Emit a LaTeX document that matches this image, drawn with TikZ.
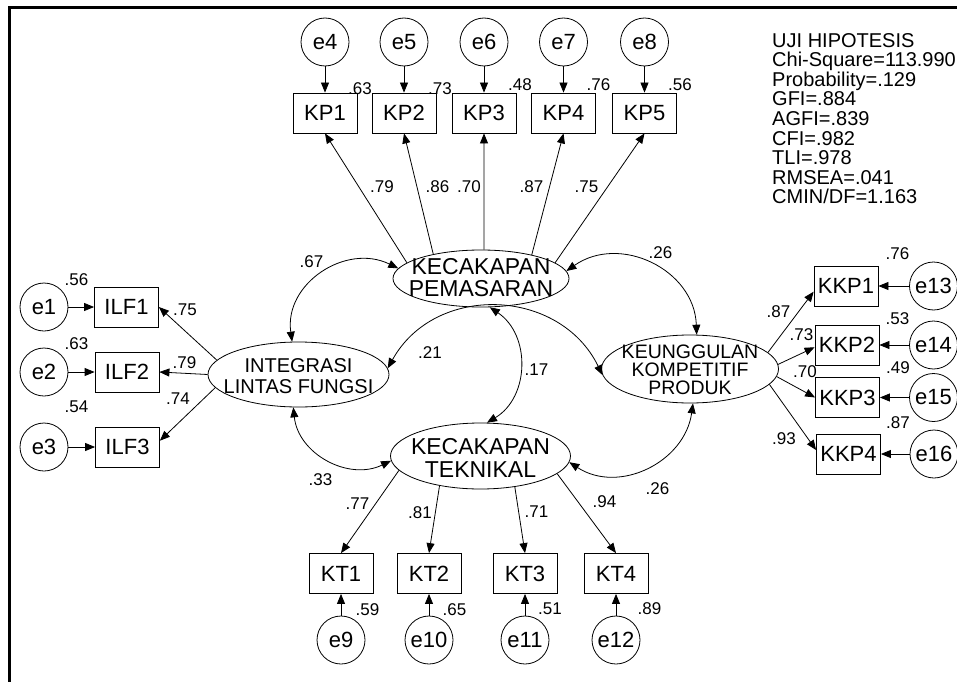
\documentclass[tikz,border=0pt]{standalone}
\usepackage{fontspec}
\setmainfont{Liberation Sans}
\usetikzlibrary{shapes.geometric,arrows.meta}
\tikzset{
  obs/.style={draw, line width=0.8pt, minimum width=64pt, minimum height=40pt, inner sep=0pt, font=\fontsize{22}{24}\selectfont},
  err/.style={draw, circle, line width=0.8pt, minimum size=48pt, inner sep=0pt, font=\fontsize{22}{24}\selectfont},
  lat/.style={draw, ellipse, line width=0.8pt, inner sep=0pt},
  num/.style={inner sep=0pt, font=\fontsize{17}{19}\selectfont},
  arr/.style={->, line width=0.8pt},
  cov/.style={<->, line width=0.8pt},
  >={Triangle[length=10pt,width=8pt]},
}
\begin{document}
\begin{tikzpicture}[x=1pt,y=1pt]
\useasboundingbox (0,0) rectangle (957,-682);
% frame
\draw[line width=3pt] (957,-7.5) -- (9.5,-7.5) -- (9.5,-682);

% latent variables
\node[lat, minimum width=176pt, minimum height=57pt] (kp) at (481,-278.5) {};
\node[lat, minimum width=181pt, minimum height=65pt] (ilf) at (298.5,-374.5) {};
\node[lat, minimum width=177pt, minimum height=68pt] (kkp) at (690,-369) {};
\node[lat, minimum width=180pt, minimum height=66pt] (kt) at (480.5,-456) {};
\node[align=center, inner sep=0pt, font=\fontsize{23}{21.5}\selectfont] (kpt) at (481,-277.5) {KECAKAPAN\\PEMASARAN};
\node[align=center, inner sep=0pt, font=\fontsize{20}{21}\selectfont] (ilft) at (298.5,-376.5) {INTEGRASI\\LINTAS FUNGSI};
\node[align=center, inner sep=0pt, font=\fontsize{19.5}{18}\selectfont] (kkpt) at (690,-370) {KEUNGGULAN\\KOMPETITIF\\PRODUK};
\node[align=center, inner sep=0pt, font=\fontsize{23}{22.5}\selectfont] (ktt) at (480.5,-458) {KECAKAPAN\\TEKNIKAL};

% KP indicators
\node[obs] (kp1) at (325,-113) {KP1};
\node[obs] (kp2) at (404,-113) {KP2};
\node[obs] (kp3) at (484,-113) {KP3};
\node[obs] (kp4) at (563.5,-113) {KP4};
\node[obs] (kp5) at (644.5,-113) {KP5};
\node[err] (e4) at (325,-42) {e4};
\node[err] (e5) at (404,-42) {e5};
\node[err] (e6) at (484,-42) {e6};
\node[err] (e7) at (563.5,-42) {e7};
\node[err] (e8) at (644.5,-42) {e8};

% ILF indicators
\node[obs] (ilf1) at (126.5,-307) {ILF1};
\node[obs] (ilf2) at (127,-372) {ILF2};
\node[obs] (ilf3) at (127.5,-447) {ILF3};
\node[err] (e1) at (44,-307) {e1};
\node[err] (e2) at (44,-372) {e2};
\node[err] (e3) at (44,-447) {e3};

% KKP indicators
\node[obs] (kkp1) at (846,-286) {KKP1};
\node[obs] (kkp2) at (847,-345) {KKP2};
\node[obs] (kkp3) at (847.5,-397.5) {KKP3};
\node[obs] (kkp4) at (848.5,-454) {KKP4};
\node[err] (e13) at (933.5,-286) {e13};
\node[err] (e14) at (933.5,-345) {e14};
\node[err] (e15) at (933.5,-397.5) {e15};
\node[err] (e16) at (934,-454) {e16};

% KT indicators
\node[obs] (kt1) at (341,-573.5) {KT1};
\node[obs] (kt2) at (429,-573.5) {KT2};
\node[obs] (kt3) at (525,-573.5) {KT3};
\node[obs] (kt4) at (616,-573.5) {KT4};
\node[err] (e9) at (341,-640) {e9};
\node[err] (e10) at (429,-640) {e10};
\node[err] (e11) at (525,-640) {e11};
\node[err] (e12) at (616,-640) {e12};

% error arrows
\draw[arr] (e4) -- (kp1);
\draw[arr] (e5) -- (kp2);
\draw[arr] (e6) -- (kp3);
\draw[arr] (e7) -- (kp4);
\draw[arr] (e8) -- (kp5);
\draw[arr] (e1) -- (ilf1);
\draw[arr] (e2) -- (ilf2);
\draw[arr] (e3) -- (ilf3);
\draw[arr] (e13) -- (kkp1);
\draw[arr] (e14) -- (kkp2);
\draw[arr] (e15) -- (kkp3);
\draw[arr] (e16) -- (kkp4);
\draw[arr] (e9) -- (kt1);
\draw[arr] (e10) -- (kt2);
\draw[arr] (e11) -- (kt3);
\draw[arr] (e12) -- (kt4);

% loadings
\draw[arr] (kp.168) -- (kp1.south);
\draw[arr] (kp.153) -- (kp2.south);
\draw[arr] (kp.84) -- (kp3.south);
\draw[arr] (kp.25) -- (kp4.south);
\draw[arr] (kp.12) -- (kp5.south);
\draw[arr] (ilf.170) -- (ilf1.east);
\draw[arr] (ilf.180) -- (ilf2.east);
\draw[arr] (ilf.189) -- (ilf3.11);
\draw[arr] (kkp.12) -- (kkp1.190);
\draw[arr] (kkp.3) -- (kkp2.184);
\draw[arr] (kkp.355) -- (kkp3.west);
\draw[arr] (kkp.349) -- (kkp4.173);
\draw[arr] (kt.190) -- (kt1.north);
\draw[arr] (kt.216) -- (kt2.north);
\draw[arr] (kt.318) -- (kt3.north);
\draw[arr] (kt.347) -- (kt4.north);

% covariances
\draw[cov] (ilf.101) to[out=98,in=154,looseness=1.16] (kp.173);
\draw[cov] (kp.5) to[out=35,in=92,looseness=1.15] (kkp.79);
\draw[cov] (ilf.4) to[out=61,in=116,looseness=1.16] (kkp.184);
\draw[cov] (kp.287) to[out=-34,in=31,looseness=1.1] (kt.79);
\draw[cov] (ilf.261) to[out=-84,in=206,looseness=1.08] (kt.183);
\draw[cov] (kt.356) to[out=-33,in=262,looseness=1.11] (kkp.275);

% numbers
\node[num] (n1) at (360,-89) {.63};
\node[num] (n2) at (440,-89) {.73};
\node[num] (n3) at (520,-85) {.48};
\node[num] (n4) at (598.5,-85) {.76};
\node[num] (n5) at (680,-85) {.56};
\node[num] (n6) at (382,-187) {.79};
\node[num] (n7) at (437.5,-187) {.86};
\node[num] (n8) at (469,-187) {.70};
\node[num] (n9) at (531.5,-187) {.87};
\node[num] (n10) at (586.5,-187) {.75};
\node[num] (n11) at (76.5,-280) {.56};
\node[num] (n12) at (76.5,-343.5) {.63};
\node[num] (n13) at (76.5,-406.5) {.54};
\node[num] (n14) at (185,-310) {.75};
\node[num] (n15) at (184.5,-362.5) {.79};
\node[num] (n16) at (178,-398.5) {.74};
\node[num] (n17) at (897.5,-253.5) {.76};
\node[num] (n18) at (897.5,-318.5) {.53};
\node[num] (n19) at (898,-367.5) {.49};
\node[num] (n20) at (898,-422.5) {.87};
\node[num] (n21) at (778.5,-311.5) {.87};
\node[num] (n22) at (801.5,-335) {.73};
\node[num] (n23) at (805,-371.5) {.70};
\node[num] (n24) at (784,-438.5) {.93};
\node[num] (n25) at (311.5,-261.5) {.67};
\node[num] (n26) at (660.5,-252.5) {.26};
\node[num] (n27) at (430,-352.5) {.21};
\node[num] (n28) at (536.5,-370) {.17};
\node[num] (n29) at (320.5,-480) {.33};
\node[num] (n30) at (657.5,-488.5) {.26};
\node[num] (n31) at (357.5,-503.5) {.77};
\node[num] (n32) at (420,-512.5) {.81};
\node[num] (n33) at (536.5,-511.5) {.71};
\node[num] (n34) at (604.5,-501.5) {.94};
\node[num] (n35) at (367.5,-610) {.59};
\node[num] (n36) at (454.5,-610) {.65};
\node[num] (n37) at (550,-608.5) {.51};
\node[num] (n38) at (649.5,-608.5) {.89};

% fit statistics
\node[anchor=north west, align=left, inner sep=0pt, font=\fontsize{20}{19.6}\selectfont] (fit) at (772,-33)
 {UJI HIPOTESIS\\Chi-Square=113.990\\Probability=.129\\GFI=.884\\AGFI=.839\\CFI=.982\\TLI=.978\\RMSEA=.041\\CMIN/DF=1.163};
\end{tikzpicture}
\end{document}
